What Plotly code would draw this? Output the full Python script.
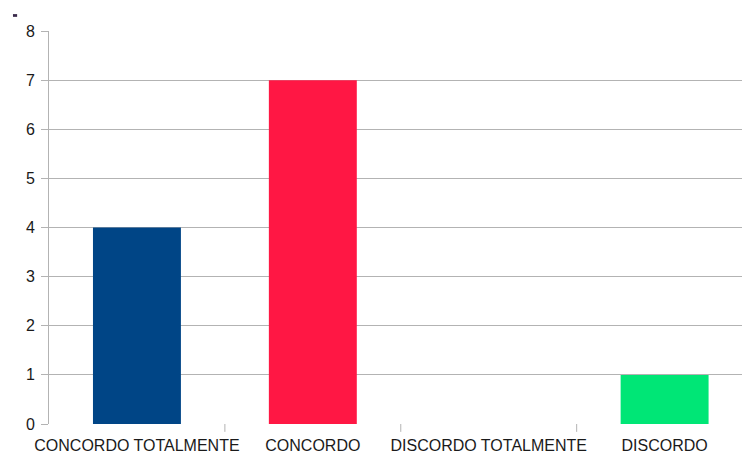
import plotly.graph_objects as go

categories = ["CONCORDO TOTALMENTE", "CONCORDO", "DISCORDO TOTALMENTE", "DISCORDO"]
values = [4, 7, 0, 1]
colors = ["#004586", "#ff1744", "#ffd320", "#00e676"]
y_ticks = [0, 1, 2, 3, 4, 5, 6, 7, 8]

fig = go.Figure(
    go.Bar(
        x=list(range(len(categories))),
        y=values,
        marker=dict(color=colors, line=dict(width=0)),
        width=0.5,
        showlegend=False,
    )
)

fig.update_layout(
    width=744,
    height=454,
    margin=dict(l=49, r=2, t=31, b=30),
    paper_bgcolor="white",
    plot_bgcolor="white",
    font=dict(family="Liberation Sans, Arial, sans-serif", size=16, color="#1a1a1a"),
)

fig.update_xaxes(
    range=[-0.5, 3.44],
    tickmode="array",
    tickvals=list(range(len(categories))),
    ticktext=categories,
    showgrid=False,
    showline=False,
    ticks="",
    ticklabelstandoff=10,
    automargin=False,
    zeroline=False,
)
# category separators below the axis
for b in [0.5, 1.5, 2.5]:
    fig.add_shape(type="line", xref="x", yref="paper", x0=b, x1=b, y0=0, y1=-0.02,
                  line=dict(color="#b3b3b3", width=1))

fig.update_yaxes(
    range=[0, 8],
    tickvals=y_ticks,
    showgrid=True,
    gridcolor="#b3b3b3",
    gridwidth=1,
    showline=True,
    linecolor="#b3b3b3",
    ticks="outside",
    ticklen=7,
    tickcolor="#b3b3b3",
    ticklabelstandoff=3,
    automargin=False,
    zeroline=False,
)

# small legend key in the corner
fig.add_shape(type="rect", xref="paper", yref="paper",
              x0=-0.052, x1=-0.046, y0=1.036, y1=1.043,
              fillcolor="#3a2a4a", line=dict(width=0))

fig.write_html("out.html")
